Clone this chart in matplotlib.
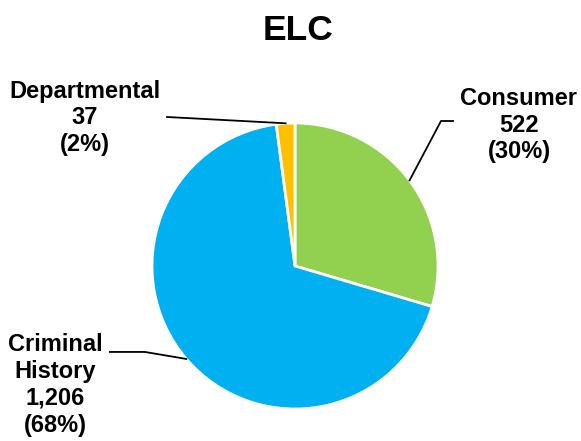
import matplotlib.pyplot as plt
import numpy as np

plt.rcParams['font.family'] = ['Liberation Sans', 'DejaVu Sans']

# ELC complaint counts by type
categories = ['Consumer', 'Criminal\nHistory', 'Departmental']
counts = [522, 1206, 37]
colors = ['#92D050', '#00B0F0', '#FFC000']

# label block centres and leader line elbows (data units, pie radius = 1)
label_pos = [(1.566, 0.986), (-1.678, -0.832), (-1.469, 1.035)]
elbows = [[(1.021, 1.014), (1.105, 1.014)],
          [(-1.05, -0.601), (-1.294, -0.601)],
          [(-0.895, 1.042)]]

W, H = 581, 441
fig = plt.figure(figsize=(W / 100, H / 100), dpi=100)
# square axes: pie centre (295, 266) px, radius 143 px
cx, cy, r = 295, 266, 143
ax = fig.add_axes([(cx - r) / W, (H - cy - r) / H, 2 * r / W, 2 * r / H])

wedges, _ = ax.pie(counts, colors=colors, startangle=90, counterclock=False,
                   radius=1, wedgeprops=dict(edgecolor='white', linewidth=2))
ax.set_xlim(-1, 1)
ax.set_ylim(-1, 1)
ax.set_aspect('equal')
ax.axis('off')

total = sum(counts)
for w, name, n, pos, elb in zip(wedges, categories, counts, label_pos, elbows):
    mid = np.deg2rad((w.theta1 + w.theta2) / 2)
    pts = [(np.cos(mid), np.sin(mid))] + elb
    xs, ys = zip(*pts)
    ax.plot(xs, ys, color='black', lw=1.3, clip_on=False)
    ax.text(pos[0], pos[1], f'{name}\n{n:,}\n({n / total * 100:.0f}%)',
            ha='center', va='center', fontsize=17, fontweight='bold',
            linespacing=1.22, clip_on=False)

fig.text(298 / W, 1 - 30 / H, 'ELC', ha='center', va='center',
         fontsize=25.5, fontweight='bold')

fig.savefig('out.png', dpi=100)
